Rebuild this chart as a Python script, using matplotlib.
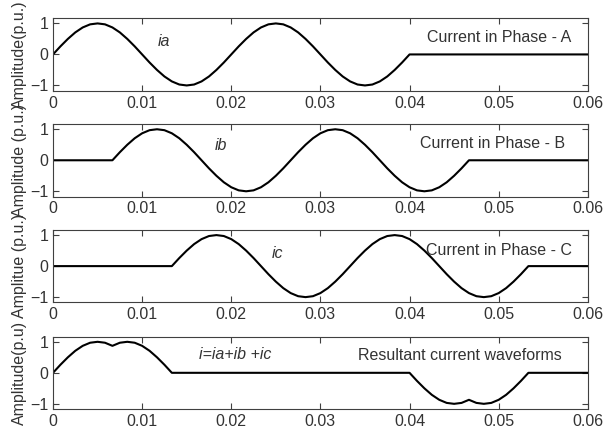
import numpy as np
import matplotlib
matplotlib.use('Agg')
import matplotlib.pyplot as plt

plt.rcParams['font.family'] = ['Liberation Sans', 'DejaVu Sans']
plt.rcParams['font.size'] = 11.5

# sample time: 73 points, 0 .. 0.06 s
t = np.arange(73) / 1200.0

# current in phase A (p.u.)
ia = [0, .26, .5, .71, .87, .97, 1, .97, .87, .71, .5, .26,
      0, -.26, -.5, -.71, -.87, -.97, -1, -.97, -.87, -.71, -.5, -.26,
      0, .26, .5, .71, .87, .97, 1, .97, .87, .71, .5, .26,
      0, -.26, -.5, -.71, -.87, -.97, -1, -.97, -.87, -.71, -.5, -.26,
      0, 0, 0, 0, 0, 0, 0, 0, 0, 0, 0, 0,
      0, 0, 0, 0, 0, 0, 0, 0, 0, 0, 0, 0, 0]

# current in phase B (p.u.)
ib = [0, 0, 0, 0, 0, 0, 0, 0,
      0, .26, .5, .71, .87, .97, 1, .97, .87, .71, .5, .26,
      0, -.26, -.5, -.71, -.87, -.97, -1, -.97, -.87, -.71, -.5, -.26,
      0, .26, .5, .71, .87, .97, 1, .97, .87, .71, .5, .26,
      0, -.26, -.5, -.71, -.87, -.97, -1, -.97, -.87, -.71, -.5, -.26,
      0, 0, 0, 0, 0, 0, 0, 0, 0, 0, 0, 0, 0, 0, 0, 0, 0]

# current in phase C (p.u.)
ic = [0, 0, 0, 0, 0, 0, 0, 0, 0, 0, 0, 0, 0, 0, 0, 0,
      0, .26, .5, .71, .87, .97, 1, .97, .87, .71, .5, .26,
      0, -.26, -.5, -.71, -.87, -.97, -1, -.97, -.87, -.71, -.5, -.26,
      0, .26, .5, .71, .87, .97, 1, .97, .87, .71, .5, .26,
      0, -.26, -.5, -.71, -.87, -.97, -1, -.97, -.87, -.71, -.5, -.26,
      0, 0, 0, 0, 0, 0, 0, 0, 0]

# resultant i = ia + ib + ic (p.u.)
i_res = [0, .26, .5, .71, .87, .97, 1, .97,
         .87, .97, 1, .97, .87, .71, .5, .26,
         0, 0, 0, 0, 0, 0, 0, 0, 0, 0, 0, 0, 0, 0, 0, 0,
         0, 0, 0, 0, 0, 0, 0, 0, 0, 0, 0, 0, 0, 0, 0, 0,
         0, -.26, -.5, -.71, -.87, -.97, -1, -.97,
         -.87, -.97, -1, -.97, -.87, -.71, -.5, -.26,
         0, 0, 0, 0, 0, 0, 0, 0, 0]

series = [ia, ib, ic, i_res]
ylabels = ['Amplitude(p.u.)', 'Amplitude (p.u.)', 'Amplitue (p.u.)', 'Amplitude(p.u)']
names = ['ia', 'ib', 'ic', 'i=ia+ib +ic']
titles = ['Current in Phase - A', 'Current in Phase - B',
          'Current in Phase - C', 'Resultant current waveforms']
name_pos = [(0.0118, 0.41), (0.0182, 0.48), (0.0245, 0.41), (0.0164, 0.6)]
title_pos = [(0.042, 0.55), (0.0412, 0.55), (0.0419, 0.5), (0.0342, 0.57)]

txt_col = '#333333'
fig = plt.figure(figsize=(6.05, 4.32), dpi=100)
bottoms = [0.790, 0.545, 0.300, 0.053]

for k in range(4):
    ax = fig.add_axes([0.0876, bottoms[k], 0.884, 0.168])
    ax.plot(t, series[k], color='black', linewidth=1.5)
    ax.set_xlim(0, 0.06)
    ax.set_ylim(-1.17, 1.17)
    ax.set_xticks([0, 0.01, 0.02, 0.03, 0.04, 0.05, 0.06])
    ax.set_xticklabels(['0', '0.01', '0.02', '0.03', '0.04', '0.05', '0.06'])
    ax.set_yticks([-1, 0, 1])
    ax.tick_params(direction='in', top=True, right=True, length=4,
                   colors='#404040', labelcolor=txt_col, labelsize=11.5)
    for sp in ax.spines.values():
        sp.set_color('#404040')
    ax.set_ylabel(ylabels[k], color=txt_col, fontsize=11.5, labelpad=2)
    ax.text(name_pos[k][0], name_pos[k][1], names[k], style='italic',
            color=txt_col, fontsize=11.5, va='center')
    ax.text(title_pos[k][0], title_pos[k][1], titles[k],
            color=txt_col, fontsize=11.5, va='center')

fig.savefig('out.png', dpi=100)
